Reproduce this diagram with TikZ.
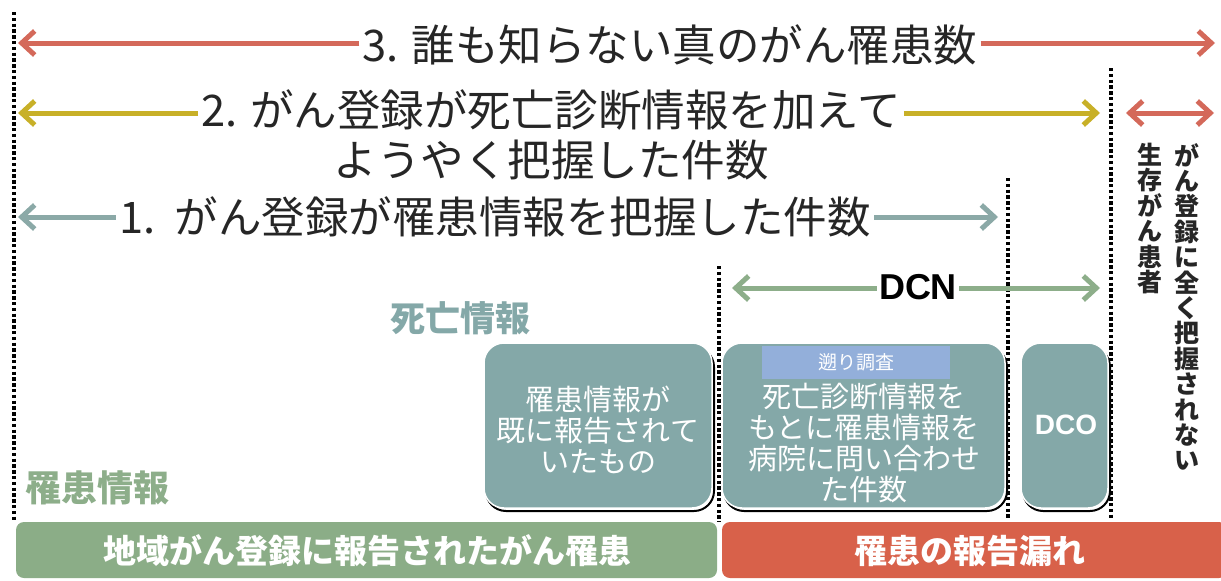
\documentclass[tikz,border=0pt]{standalone}
\usepackage{fontspec}
\setmainfont{Noto Sans CJK JP}
\newfontfamily\lat{Liberation Sans}
\usetikzlibrary{arrows.meta}
\definecolor{cred}{HTML}{D4695A}
\definecolor{cyel}{HTML}{C8B028}
\definecolor{cgry}{HTML}{8BA9A7}
\definecolor{cgrn}{HTML}{8DAE8A}
\definecolor{cbox}{HTML}{84A8A8}
\definecolor{cblue}{HTML}{93AFDA}
\definecolor{bgrn}{HTML}{8BAD87}
\definecolor{bred}{HTML}{D8614A}
\definecolor{ctxt}{HTML}{262626}
\tikzset{
  x=1pt, y=-1pt,
  bigtxt/.style={font=\fontsize{43.5}{50}\selectfont, text=ctxt, inner sep=3pt, align=center},
  arr/.style={line width=5pt, -{Straight Barb[length=13pt,width=24pt]}},
  darr/.style={line width=5pt, {Straight Barb[length=13pt,width=24pt]}-{Straight Barb[length=13pt,width=24pt]}},
  dots/.style={line width=4pt, dash pattern=on 3.4pt off 2.4pt},
  gbox/.style={fill=cbox, draw=white, line width=1.5pt, rounded corners=20pt},
  shadowbox/.style={draw=black, line width=2pt, rounded corners=20pt},
  boxtxt/.style={text=white, font=\fontsize{29}{31}\selectfont, align=center},
  bar/.style={rounded corners=8pt},
  bartxt/.style={text=white, font=\bfseries\fontsize{33}{34}\selectfont},
  vtxt/.style={font=\bfseries\fontsize{25}{25.4}\selectfont, text=ctxt, align=center, anchor=north, inner sep=0pt},
}
\begin{document}
\begin{tikzpicture}
\useasboundingbox (0,0) rectangle (1221,581);
\fill[white] (0,0) rectangle (1221,581);

% dotted vertical lines
\draw[dots] (14,12) -- (14,520);
\draw[dots] (719,266) -- (719,522);
\draw[dots] (1008,178) -- (1008,520);
\draw[dots] (1111,68) -- (1111,520);

% arrow 3
\node[bigtxt] (t3) at (670,45) {3. 誰も知らない真のがん罹患数};
\coordinate (a3l) at (18,43);
\coordinate (a3r) at (1215,43);
\draw[arr, cred] (t3.west |- a3l) -- (a3l);
\draw[arr, cred] (t3.east |- a3r) -- (a3r);

% arrow 2
\node[bigtxt] (t2) at (551,135) {2. がん登録が死亡診断情報を加えて\\ようやく把握した件数};
\coordinate (a2l) at (18,113);
\coordinate (a2r) at (1100,113);
\draw[arr, cyel] (t2.west |- a2l) -- (a2l);
\draw[arr, cyel] (t2.east |- a2r) -- (a2r);

% arrow 1
\node[bigtxt] (t1) at (495,217) {1.\ \ がん登録が罹患情報を把握した件数};
\coordinate (a1l) at (18,217);
\coordinate (a1r) at (998,217);
\draw[arr, cgry] (t1.west |- a1l) -- (a1l);
\draw[arr, cgry] (t1.east |- a1r) -- (a1r);

% small red arrow
\coordinate (s1) at (1126,113);
\coordinate (s2) at (1214,113);
\draw[darr, cred] (s1) -- (s2);

% vertical texts
\node[vtxt] (v1) at (1187,143) {が\\ん\\登\\録\\に\\全\\く\\把\\握\\さ\\れ\\な\\い};
\node[vtxt] (v2) at (1150,143) {生\\存\\が\\ん\\患\\者};

% DCN
\node[font=\lat\bfseries\fontsize{36}{36}\selectfont, text=black, inner sep=2pt] (dcn) at (918,287) {DCN};
\coordinate (d1) at (732,288);
\coordinate (d2) at (1100,288);
\draw[arr, cgrn] (dcn.west |- d1) -- (d1);
\draw[arr, cgrn] (dcn.east |- d2) -- (d2);

% labels
\node[font=\bfseries\fontsize{35}{35}\selectfont, text=cbox] (shibou) at (460,318) {死亡情報};
\node[font=\bfseries\fontsize{36}{36}\selectfont, text=cgrn] (rikan) at (97,488) {罹患情報};

% boxes
\draw[shadowbox] (486,347) rectangle (714,511);
\draw[gbox] (484,343) rectangle (712,508);
\node[boxtxt] (b1) at (598,430) {罹患情報が\\既に報告されて\\いたもの};

\draw[shadowbox] (724,347) rectangle (1007,511);
\draw[gbox] (722,343) rectangle (1005,508);
\fill[cblue] (762,346) rectangle (950,379);
\node[text=white, font=\fontsize{19}{19}\selectfont] (sakanobori) at (856,362) {遡り調査};
\node[boxtxt] (b2) at (864,443) {死亡診断情報を\\もとに罹患情報を\\病院に問い合わせ\\た件数};

\draw[shadowbox] (1023,347) rectangle (1110,511);
\draw[gbox] (1021,343) rectangle (1108,508);
\node[text=white, font=\lat\bfseries\fontsize{28}{28}\selectfont] (dco) at (1066,425) {DCO};

% bottom bars
\fill[bgrn, bar] (16,522) rectangle (717,578);
\node[bartxt] (g) at (367,551) {地域がん登録に報告されたがん罹患};
\fill[bred, bar] (722,522) rectangle (1227,578);
\node[bartxt] (r) at (970,551) {罹患の報告漏れ};
\end{tikzpicture}
\end{document}
